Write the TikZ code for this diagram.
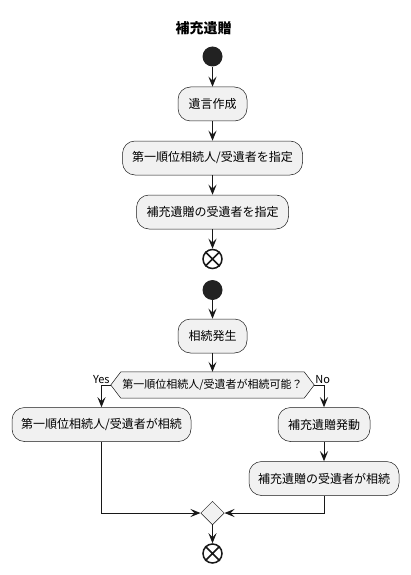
\documentclass[tikz,border=0pt]{standalone}
\usepackage{fontspec}
\newfontfamily\cjk{Noto Sans CJK JP}
\usetikzlibrary{arrows.meta,shapes.geometric,backgrounds}
\definecolor{boxfill}{HTML}{F1F1F1}
\definecolor{ln}{HTML}{181818}
\definecolor{startc}{HTML}{222222}
\begin{document}
\begin{tikzpicture}[x=1pt,y=-1pt,
  act/.style={draw=ln, line width=0.5pt, fill=boxfill, rounded corners=12.5pt,
    minimum height=34pt, inner sep=0pt, font=\cjk\fontsize{12}{14}\selectfont},
  hexn/.style={minimum height=26pt, inner sep=0pt, font=\cjk\fontsize{11}{13}\selectfont},
  startn/.style={circle, fill=startc, minimum size=20pt, inner sep=0pt},
  stopn/.style={circle, draw=ln, line width=1.5pt, fill=white, minimum size=19pt, inner sep=0pt},
  xline/.style={draw=ln, line width=1.5pt},
  mergen/.style={diamond, aspect=1, draw=ln, line width=0.5pt, fill=boxfill, minimum size=23.5pt, inner sep=0pt},
  arr/.style={draw=ln, line width=1pt, -{Stealth[length=10pt,width=8pt,inset=4pt]}},
  lbl/.style={font=\cjk\fontsize{11}{13}\selectfont, inner sep=1pt},
  titlen/.style={font=\cjk\bfseries\fontsize{14}{16}\selectfont}
]
\useasboundingbox (0,0) rectangle (410,575);
\node[titlen] (title) at (203.5,28) {補充遺贈};
\node[startn] (s1) at (212.5,56.5) {};
\node[act, minimum width=69pt] (b1) at (212.5,104) {遺言作成};
\node[act, minimum width=180pt] (b2) at (212.5,158) {第一順位相続人/受遺者を指定};
\node[act, minimum width=152pt] (b3) at (212.5,212) {補充遺贈の受遺者を指定};
\node[stopn] (e1) at (212.5,259) {};
\draw[xline] (e1.north west) -- (e1.south east) (e1.north east) -- (e1.south west);
\node[startn] (s2) at (212.5,290) {};
\node[act, minimum width=69pt] (b4) at (212.5,336) {相続発生};
\node[hexn, minimum width=203pt] (q) at (212.5,385) {第一順位相続人/受遺者が相続可能？};
\begin{scope}[on background layer]
\filldraw[fill=boxfill, draw=ln, line width=0.5pt] (q.west) -- ([xshift=10pt]q.north west) -- ([xshift=-10pt]q.north east) -- (q.east) -- ([xshift=-10pt]q.south east) -- ([xshift=10pt]q.south west) -- cycle;
\end{scope}
\node[act, minimum width=179pt] (l1) at (101.5,424.5) {第一順位相続人/受遺者が相続};
\node[act, minimum width=92pt] (r1) at (324,424.5) {補充遺贈発動};
\node[act, minimum width=150pt] (r2) at (324,478.5) {補充遺贈の受遺者が相続};
\node[mergen] (m) at (212.5,513) {};
\node[stopn] (e2) at (212.5,553.5) {};
\draw[xline] (e2.north west) -- (e2.south east) (e2.north east) -- (e2.south west);

\draw[arr] (s1) -- (b1);
\draw[arr] (b1) -- (b2);
\draw[arr] (b2) -- (b3);
\draw[arr] (b3) -- (e1);
\draw[arr] (s2) -- (b4);
\draw[arr] (b4) -- (q);
\draw[arr] (q.west) -| (l1.north);
\draw[arr] (q.east) -| (r1.north);
\draw[arr] (r1) -- (r2);
\draw[arr] (l1.south) |- (m.west);
\draw[arr] (r2.south) |- (m.east);
\draw[arr] (m) -- (e2);
\node[lbl, anchor=south east] (yes) at (q.west) {Yes};
\node[lbl, anchor=south west] (no) at (q.east) {No};
\end{tikzpicture}
\end{document}
